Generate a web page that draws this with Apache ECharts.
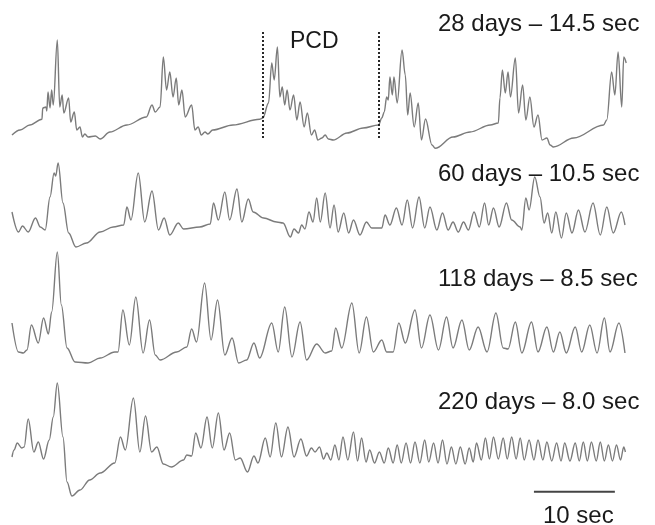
<!DOCTYPE html>
<html>
<head>
<meta charset="utf-8">
<script src="https://cdn.jsdelivr.net/npm/echarts@6/dist/echarts.min.js"></script>
<style>
  html, body { margin: 0; padding: 0; background: #ffffff; }
  #chart { width: 655px; height: 525px; }
</style>
</head>
<body>
<div id="chart"></div>
<script>
// Time in seconds, amplitude in arbitrary units
const trace28 = [
  [0.0,20],[1.0,25],[2.2,30],[3.7,35.7],[3.8,47],[4.2,48],[4.3,44],[4.45,63],[4.7,47],[4.9,65],[5.1,50],
  [5.6,115],[5.9,48],[6.2,60],[6.4,42],[7.0,57],[7.25,33],[7.7,43],[8.0,25],[8.4,28],[8.7,18],[9.0,21],
  [9.4,18],[10.3,19],[10.9,16],[12.1,23],[14.2,30],[16.6,38],[17.3,50],[17.7,43],[18.3,48],[18.7,98],
  [19.1,65],[19.5,83],[19.9,58],[20.3,77],[20.6,50],[21.0,65],[21.4,38],[22.2,50],[22.6,25],[23.0,28],
  [23.4,20],[23.85,23],[24.2,21],[24.8,25],[27.3,30],[30.6,35.7],[31.0,37],[31.7,52],[32.1,92],[32.4,75],
  [32.8,108],[33.1,58],[33.4,68],[33.7,50],[34.0,65],[34.35,45],[34.8,60],[35.2,35],[35.6,53],[36.1,28],
  [36.5,42],[37.0,20],[37.4,25],[37.8,15],[38.3,17],[38.7,20],[39.1,16],[39.7,15],[41.4,22],[43.4,27],
  [45.3,30],[45.7,37],[46.0,43],[46.3,58],[46.5,55],[46.7,78],[47.0,60],[47.2,78],[47.6,52],[48.2,105],
  [48.6,80],[48.9,40],[49.2,62],[49.7,28],[50.2,52],[50.6,15],[51.1,36],[51.9,10],[52.3,6.7],[54.5,18],
  [56.6,23],[59.1,30],[60.1,32],[60.3,57],[60.6,85],[60.96,62],[61.3,83],[61.6,58],[62.2,97],[62.6,42],
  [63.1,70],[63.5,35],[64.0,58],[64.5,28],[65.0,40],[65.5,15],[66.1,17],[66.5,10],[66.9,8],[69.4,17],
  [73.1,30],[73.5,35],[74.1,83],[74.5,60],[74.9,103],[75.35,48],[75.6,98],[75.9,92]
];
const trace60 = [
  [0.0,38],[0.8,18],[1.3,24],[2.0,18],[2.9,32],[3.5,23],[4.1,20],[4.7,53],[5.2,77],[5.4,74],[5.7,87],
  [6.3,47],[7.0,17],[7.9,3],[9.2,7],[10.9,18],[12.5,23],[13.8,25],[14.2,43],[14.7,30],[15.6,77],[16.4,28],
  [17.3,59],[18.1,20],[18.8,32],[19.5,15],[20.55,27],[21.2,21],[23.2,23],[24.5,26],[24.9,47],[25.5,30],
  [26.3,58],[26.9,30],[27.8,61],[28.4,28],[29.2,51],[29.8,38],[31.1,32],[32.7,28],[33.5,27],[34.4,13],
  [34.85,21],[35.4,17],[35.8,25],[36.2,21],[36.7,38],[37.2,28],[37.65,52],[38.1,28],[38.7,57],[39.3,22],
  [39.8,45],[40.3,18],[41.0,37],[41.6,17],[42.2,30],[43.0,15],[43.8,28],[44.45,22],[45.7,22],[46.1,35],
  [46.7,25],[47.5,42],[48.2,25],[48.85,50],[49.5,22],[50.3,53],[51.0,22],[51.65,43],[52.5,20],[53.2,37],
  [53.9,20],[54.5,28],[55.15,18],[55.8,28],[56.4,20],[57.1,38],[57.75,23],[58.4,47],[58.9,25],[59.5,42],
  [60.2,23],[61.1,47],[61.75,30],[62.8,23],[63.0,20],[63.5,52],[63.9,40],[64.6,73],[65.25,53],[65.75,27],
  [66.2,37],[66.7,17],[67.2,38],[67.9,12],[68.5,37],[69.2,17],[70.0,40],[70.8,18],[71.8,47],[72.7,15],
  [73.5,43],[74.3,17],[75.3,38],[75.75,25]
];
const trace118 = [
  [0.0,47],[0.8,18],[1.4,17],[1.85,20],[2.4,45],[3.25,27],[3.9,52],[4.5,36],[4.9,58],[5.6,118],[6.1,65],
  [6.8,22],[7.8,8],[9.4,7],[10.9,12],[12.7,18],[13.1,18],[13.7,60],[14.5,25],[15.3,73],[16.2,17],[17.0,50],
  [17.7,15],[18.3,10],[20.35,18],[21.6,23],[22.2,41],[22.8,28],[23.8,87],[24.6,30],[25.4,70],[26.3,15],
  [27.2,32],[28.0,7],[29.0,10],[29.9,27],[30.6,12],[32.1,47],[32.9,18],[33.7,63],[34.6,13],[35.6,48],
  [36.4,10],[37.65,26],[38.7,17],[39.5,19],[40.0,42],[40.75,22],[42.0,67],[42.9,17],[43.8,53],[44.65,18],
  [45.7,30],[46.3,18],[47.1,18],[47.8,47],[48.6,27],[49.8,60],[50.6,22],[51.65,55],[52.7,20],[53.7,53],
  [54.5,22],[55.6,50],[56.5,20],[57.6,43],[58.7,18],[59.8,57],[60.7,22],[61.3,21],[62.2,48],[63.0,17],
  [64.2,48],[65.0,18],[66.1,43],[66.9,18],[67.7,38],[68.5,17],[69.6,43],[70.4,18],[71.4,45],[72.3,17],
  [73.2,52],[73.9,18],[75.0,47],[75.75,17]
];
const trace220 = [
  [0.0,43],[0.25,50],[0.65,57],[1.2,52],[1.5,53],[2.0,81],[2.7,48],[3.25,58],[3.9,41],[4.6,60],[5.1,83],
  [5.6,117],[6.3,63],[6.8,18],[7.4,4],[8.4,10],[9.6,20],[10.9,27],[12.7,37],[13.4,63],[14.0,50],[15.0,102],
  [15.8,48],[16.5,84],[17.25,48],[17.9,53],[18.7,36],[19.7,33],[21.2,40],[21.6,45],[22.2,44],[22.7,67],
  [23.35,52],[24.1,83],[24.75,52],[25.5,87],[26.2,50],[26.9,67],[27.6,40],[28.2,42],[29.1,28],[29.9,44],
  [30.4,37],[31.3,62],[31.9,43],[32.6,77],[33.3,43],[34.1,73],[34.85,43],[35.7,61],[36.4,44],[37.0,52],
  [37.45,48],[38.0,53],[38.5,41],[38.9,47],[39.4,40],[39.9,55],[40.4,40],[40.9,63],[41.5,40],[42.2,68],
  [42.7,39],[43.2,62],[43.75,38],[44.2,50],[44.8,37],[45.4,48],[46.0,37],[46.5,52],[47.1,37],[47.6,55],
  [48.1,37],[48.7,57],[49.25,37],[49.8,58],[50.4,37],[51.0,60],[51.5,38],[52.1,57],[52.65,37],[53.2,60],
  [53.75,36],[54.3,53],[54.85,36],[55.4,53],[56.0,36],[56.5,52],[57.0,38],[57.4,57],[58.0,40],[58.5,62],
  [59.0,41],[59.5,63],[60.1,41],[60.7,62],[61.2,41],[61.75,63],[62.3,41],[62.8,62],[63.3,40],[63.9,60],
  [64.5,40],[65.0,60],[65.6,40],[66.1,58],[66.7,39],[67.3,57],[67.85,39],[68.3,57],[68.95,39],[69.6,57],
  [70.1,39],[70.6,58],[71.1,39],[71.6,58],[72.2,39],[72.7,58],[73.2,39],[73.7,55],[74.2,39],[74.7,55],
  [75.2,40],[75.6,53],[75.8,48]
];
const traceLabels = ['28 days \u2013 14.5 sec', '60 days \u2013 10.5 sec', '118 days \u2013 8.5 sec', '220 days \u2013 8.0 sec'];
const pcdBounds = [31.0, 45.27];   // seconds
const pcdLabel = 'PCD';
const scaleBarStart = 64.5;        // seconds
const scaleBarLength = 10;         // seconds
const scaleBarLabel = '10 sec';

const traces = [trace28, trace60, trace118, trace220];
const grids = [
  { left: 12, right: 28, top: 30, height: 125 },
  { left: 12, right: 28, top: 155, height: 95 },
  { left: 12, right: 28, top: 245, height: 125 },
  { left: 12, right: 28, top: 375, height: 125 }
];
const xAxes = grids.map((g, i) => ({ type: 'value', gridIndex: i, min: 0, max: 76, show: false }));
const yAxes = grids.map((g, i) => ({ type: 'value', gridIndex: i, min: 0, max: g.height, show: false }));

const lineStyle = { color: '#7b7b7b', width: 1.4 };
const series = traces.map((d, i) => ({
  type: 'line', xAxisIndex: i, yAxisIndex: i, data: d, showSymbol: false, symbol: 'none',
  smooth: 0.35, smoothMonotone: 'x', lineStyle: lineStyle, silent: true, animation: false
}));
// PCD dotted boundaries
series[0].markLine = {
  silent: true, symbol: 'none', label: { show: false },
  lineStyle: { color: '#111', type: [2, 2], width: 1.8 },
  data: pcdBounds.map(t => [{ coord: [t, 17] }, { coord: [t, 125] }])
};
// scale bar
series.push({
  type: 'line', xAxisIndex: 3, yAxisIndex: 3, symbol: 'none', silent: true, animation: false,
  data: [[scaleBarStart, 8.3], [scaleBarStart + scaleBarLength, 8.3]],
  lineStyle: { color: '#444', width: 2 }
});

const labelY = [25, 175, 280, 403];
const graphics = traceLabels.map((t, i) => ({
  type: 'text', left: 438, top: labelY[i] - 13,
  style: { text: t, fill: '#1a1a1a', font: '24px "Liberation Sans", Arial, sans-serif' }
}));
graphics.push({
  type: 'text', left: 290, top: 30,
  style: { text: pcdLabel, fill: '#1a1a1a', font: '23px "Liberation Sans", Arial, sans-serif' }
});
graphics.push({
  type: 'text', left: 543, top: 504,
  style: { text: scaleBarLabel, fill: '#1a1a1a', font: '24px "Liberation Sans", Arial, sans-serif' }
});

const chart = echarts.init(document.getElementById('chart'), null, { renderer: 'canvas' });
chart.setOption({
  animation: false,
  backgroundColor: '#ffffff',
  grid: grids,
  xAxis: xAxes,
  yAxis: yAxes,
  series: series,
  graphic: graphics
});
</script>
</body>
</html>
